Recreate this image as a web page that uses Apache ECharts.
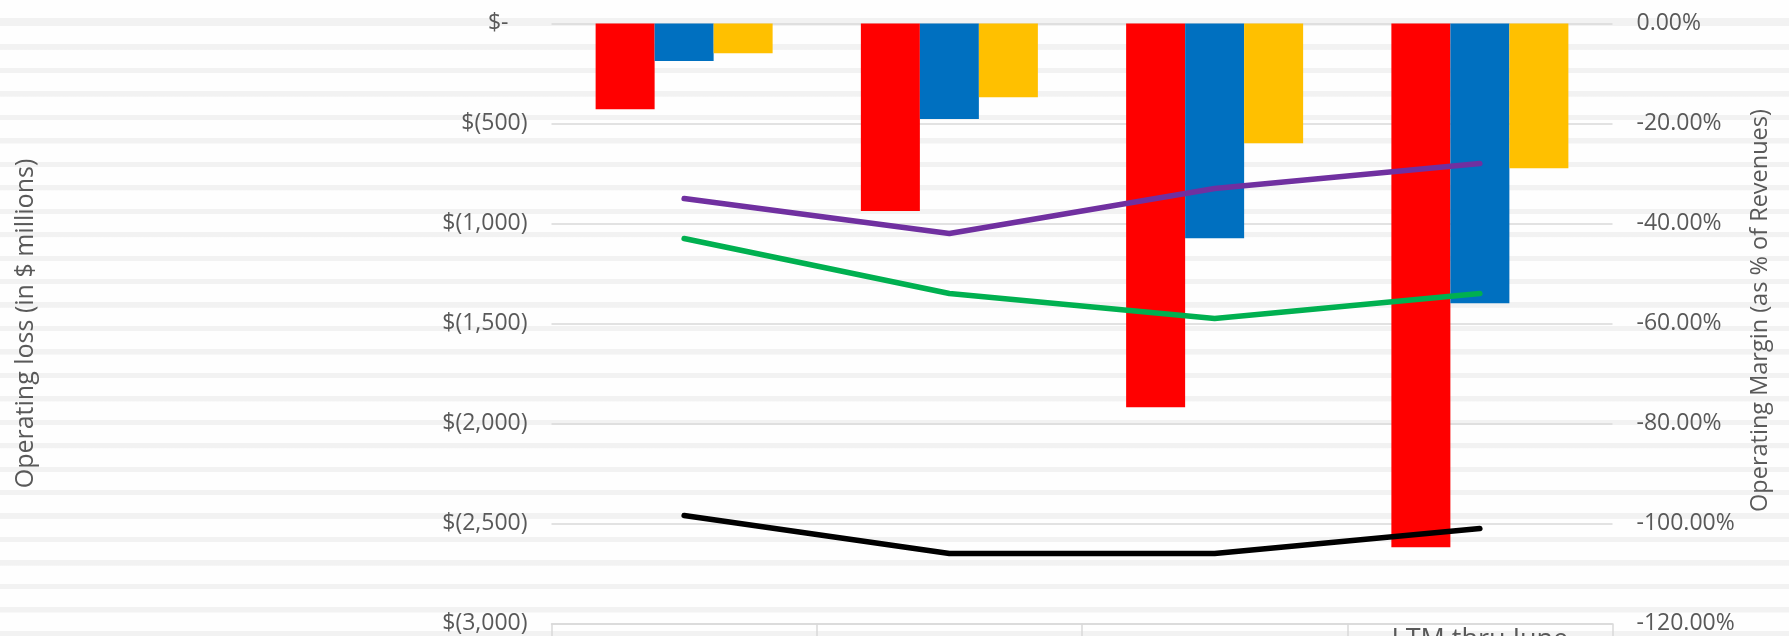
<!DOCTYPE html>
<html>
<head>
<meta charset="utf-8">
<script src="https://cdn.jsdelivr.net/npm/echarts@6/dist/echarts.min.js"></script>
<style>
  html, body { margin: 0; padding: 0; }
  body {
    background-color: #fefefe;
    background-image: repeating-linear-gradient(to bottom, #f2f2f2 0px, #f2f2f2 5px, #fefefe 5.5px, #fefefe 23.45px);
    background-position: 0 21px;
  }
  #chart { width: 1789px; height: 636px; }
</style>
</head>
<body>
<div id="chart"></div>
<script>
// data
var categories = ['2016', '2017', '2018', 'LTM thru June\n2019'];
var lossRed = [-429, -937, -1919, -2619];
var lossBlue = [-187, -477, -1074, -1399];
var lossYellow = [-149, -369, -599, -724];
var marginPurple = [-35, -42, -33, -28];
var marginGreen = [-43, -54, -59, -54];
var marginBlack = [-98.4, -106, -106, -101];

var leftTicks = { min: -3000, max: 0, interval: 500 };
var rightTicks = { min: -120, max: 0, interval: 20 };

var chart = echarts.init(document.getElementById('chart'));

var font = '"Open Sans", sans-serif';
var grey = '#595959';

function barSeries(name, data, color) {
  return {
    name: name,
    type: 'bar',
    yAxisIndex: 0,
    barWidth: 59,
    barGap: '0%',
    itemStyle: { color: color },
    data: data
  };
}

function lineSeries(name, data, color) {
  return {
    name: name,
    type: 'line',
    yAxisIndex: 1,
    symbol: 'none',
    lineStyle: { color: color, width: 5.5, cap: 'round', join: 'round' },
    data: data
  };
}

var option = {
  animation: false,
  grid: {
    left: 551.5, right: 176.5, top: 23.5, bottom: 12.5,
    containLabel: false,
    outerBoundsMode: 'none'
  },
  xAxis: {
    type: 'category',
    data: categories,
    axisLine: { onZero: false, lineStyle: { color: '#d9d9d9', width: 1.5 } },
    axisTick: { show: true, alignWithLabel: false, length: 30, lineStyle: { color: '#d9d9d9', width: 1.5 } },
    axisLabel: {
      color: grey,
      fontFamily: font,
      fontSize: 27,
      margin: 2,
      verticalAlign: 'top',
      lineHeight: 30,
      formatter: function (v) {
        // single line labels sit lower, centred in the two line box
        return v.indexOf('\n') < 0 ? '{s|' + v + '}' : v;
      },
      rich: { s: { fontFamily: font, fontSize: 27, color: grey, padding: [15, 0, 0, 0] } }
    }
  },
  yAxis: [
    {
      type: 'value',
      min: leftTicks.min,
      max: leftTicks.max,
      interval: leftTicks.interval,
      name: 'Operating loss (in $ millions)',
      nameLocation: 'middle',
      nameRotate: 90,
      nameGap: 513,
      nameTextStyle: { color: grey, fontFamily: font, fontSize: 25 },
      axisLine: { show: false },
      axisTick: { show: false },
      splitLine: { lineStyle: { color: '#d9d9d9', width: 1.5 } },
      axisLabel: {
        color: grey,
        fontFamily: font,
        fontSize: 23,
        margin: 24,
        formatter: function (v) {
          if (v === 0) return '{z|$-}';
          return '$(' + Math.abs(v).toLocaleString('en-US') + ')';
        },
        rich: { z: { color: grey, fontFamily: font, fontSize: 23, padding: [0, 19, 0, 0] } }
      }
    },
    {
      type: 'value',
      position: 'right',
      min: rightTicks.min,
      max: rightTicks.max,
      interval: rightTicks.interval,
      name: 'Operating Margin (as % of Revenues)',
      nameLocation: 'middle',
      nameRotate: 90,
      nameGap: 136,
      // sits a little above the middle in the original
      nameTextStyle: { color: grey, fontFamily: font, fontSize: 23.5, padding: [0, 0, 0, 26] },
      axisLine: { show: false },
      axisTick: { show: false },
      splitLine: { show: false },
      axisLabel: {
        color: grey,
        fontFamily: font,
        fontSize: 23,
        margin: 24,
        formatter: function (v) {
          return (v === 0 ? 0 : v).toFixed(2) + '%';
        }
      }
    }
  ],
  series: [
    barSeries('Red', lossRed, '#ff0000'),
    barSeries('Blue', lossBlue, '#0070c0'),
    barSeries('Yellow', lossYellow, '#ffc000'),
    lineSeries('Purple', marginPurple, '#7030a0'),
    lineSeries('Green', marginGreen, '#00b050'),
    lineSeries('Black', marginBlack, '#000000')
  ]
};

chart.setOption(option);
</script>
</body>
</html>
